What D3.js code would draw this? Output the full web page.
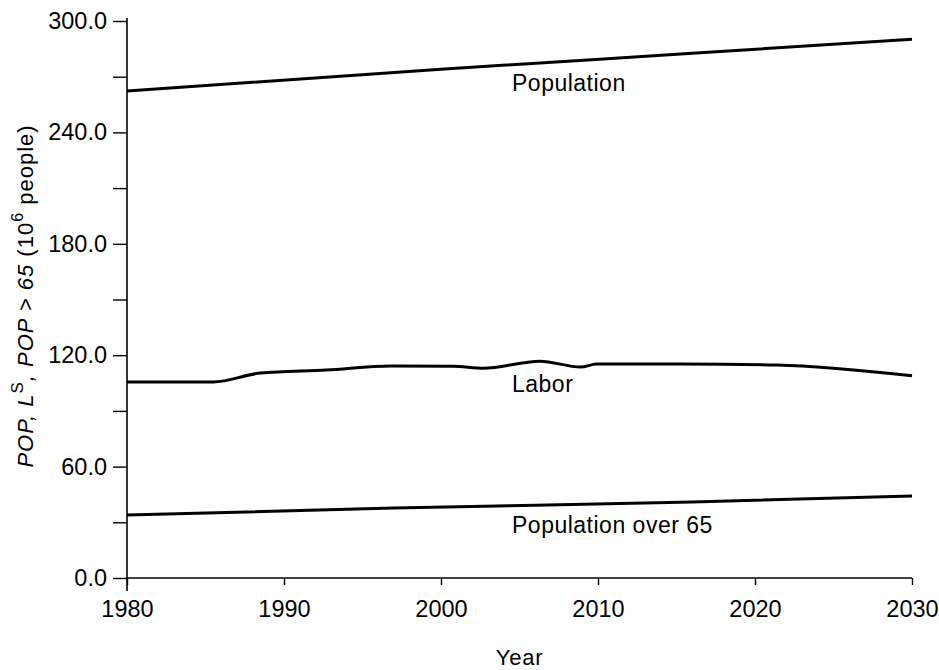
<!DOCTYPE html>
<html>
<head>
<meta charset="utf-8">
<script src="https://cdn.jsdelivr.net/npm/d3@7"></script>
<style>
  html, body { margin: 0; padding: 0; background: #fff; }
  svg { display: block; }
  text { font-family: "Liberation Sans", Arial, Helvetica, sans-serif; fill: #000; }
</style>
</head>
<body>
<svg id="chart" width="939" height="670"></svg>
<script>
// Population projections, millions of people
const popYears = [1980, 2000, 2016, 2030];
const popValues = [262.3, 274.0, 282.6, 290.2];

const laborYears = [1980, 1985.5, 1988.5, 1992.7, 1996.8, 2000.8, 2002.7, 2006.3, 2008.9, 2009.9, 2015.2, 2021.4, 2030];
const laborValues = [105.6, 105.6, 110.4, 112.0, 114.2, 114.0, 113.0, 116.8, 113.6, 115.2, 115.3, 114.7, 108.9];

const over65Years = [1980, 1997, 2016, 2030];
const over65Values = [33.9, 37.7, 40.9, 44.2];

const xTicks = [1980, 1990, 2000, 2010, 2020, 2030];
const yTicks = [0, 60, 120, 180, 240, 300];
const yMinorTicks = [30, 90, 150, 210, 270];

const seriesLabels = ["Population", "Labor", "Population over 65"];

const svg = d3.select("#chart");
const x = d3.scaleLinear().domain([1980, 2030]).range([127, 912]);
const y = d3.scaleLinear().domain([0, 300]).range([578, 21]);

// Axis lines
svg.append("line")
  .attr("x1", x(1980)).attr("x2", x(1980))
  .attr("y1", y(300) - 3).attr("y2", y(0) + 13)
  .attr("stroke", "#000").attr("stroke-width", 1.6);
svg.append("line")
  .attr("x1", x(1980)).attr("x2", x(2030))
  .attr("y1", y(0)).attr("y2", y(0))
  .attr("stroke", "#000").attr("stroke-width", 1.6);

// Y axis: major ticks with labels, then unlabeled minor ticks
const yAxis = svg.append("g")
  .attr("transform", `translate(${x(1980)},0)`)
  .call(d3.axisLeft(y).tickValues(yTicks).tickFormat(d3.format(".1f"))
    .tickSize(14).tickPadding(6).tickSizeOuter(0));
const yMinor = svg.append("g")
  .attr("transform", `translate(${x(1980)},0)`)
  .call(d3.axisLeft(y).tickValues(yMinorTicks).tickFormat("").tickSize(14).tickSizeOuter(0));

// X axis
const xAxis = svg.append("g")
  .attr("transform", `translate(0,${y(0)})`)
  .call(d3.axisBottom(x).tickValues(xTicks).tickFormat(d3.format("d"))
    .tickSize(7).tickPadding(15).tickSizeOuter(0));

[yAxis, yMinor, xAxis].forEach(g => {
  g.select(".domain").remove();
  g.selectAll(".tick line").attr("stroke", "#000").attr("stroke-width", 1.4);
  g.selectAll(".tick text").attr("font-size", 23.5).attr("fill", "#000")
    .attr("font-family", "Liberation Sans, Arial, sans-serif");
});

// Series lines
const line = d3.line().x(d => x(d[0])).y(d => y(d[1])).curve(d3.curveMonotoneX);
const series = [
  d3.zip(popYears, popValues),
  d3.zip(laborYears, laborValues),
  d3.zip(over65Years, over65Values)
];
svg.selectAll("path.series")
  .data(series)
  .join("path")
  .attr("class", "series")
  .attr("d", line)
  .attr("fill", "none")
  .attr("stroke", "#000")
  .attr("stroke-width", 3)
  .attr("stroke-linejoin", "round");

// Inline series labels
const labelBaselines = [91, 392, 533];
svg.selectAll("text.series-label")
  .data(seriesLabels)
  .join("text")
  .attr("class", "series-label")
  .attr("x", 512)
  .attr("y", (d, i) => labelBaselines[i])
  .attr("font-size", 23)
  .attr("letter-spacing", 0.5)
  .text(d => d);

// X axis title
svg.append("text")
  .attr("x", (x(1980) + x(2030)) / 2)
  .attr("y", 665)
  .attr("text-anchor", "middle")
  .attr("font-size", 22)
  .attr("letter-spacing", 0.8)
  .text("Year");

// Y axis title with italic symbols and superscripts
const yTitle = svg.append("text")
  .attr("transform", "translate(33,296) rotate(-90)")
  .attr("text-anchor", "middle")
  .attr("font-size", 22)
  .attr("letter-spacing", 1);
yTitle.append("tspan").attr("font-style", "italic").text("POP, L");
yTitle.append("tspan").attr("dy", -10).attr("font-size", 17).text("S");
yTitle.append("tspan").attr("dy", 10).attr("font-style", "italic").text(", POP > 65 ");
yTitle.append("tspan").text("(10");
yTitle.append("tspan").attr("dy", -10).attr("font-size", 16).text("6");
yTitle.append("tspan").attr("dy", 10).text("  people)");
</script>
</body>
</html>
